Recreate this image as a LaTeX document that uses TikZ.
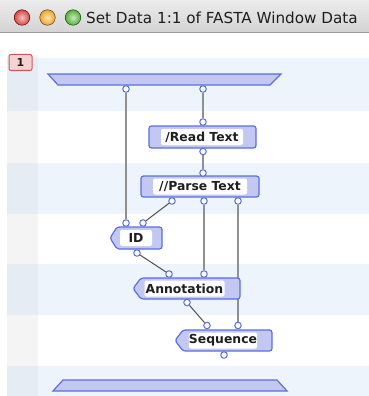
\documentclass[tikz,border=0pt]{standalone}
\usepackage{fontspec}
\setmainfont{DejaVu Sans}
\usetikzlibrary{calc}
\definecolor{stripe}{HTML}{EEF4FC}
\definecolor{colw}{HTML}{F4F4F4}
\definecolor{colb}{HTML}{E5ECF4}
\definecolor{nodeblue}{HTML}{5B6EE1}
\definecolor{nodefill}{HTML}{C3C8F2}
\definecolor{wiregray}{HTML}{909090}
\definecolor{wiredark}{HTML}{505050}
\definecolor{txt}{HTML}{1E1E1E}
\definecolor{badgefill}{HTML}{F5D2D2}
\definecolor{badgeline}{HTML}{C45A5A}
\definecolor{tbtop}{HTML}{ECECEC}
\definecolor{tbbot}{HTML}{D4D4D4}
\definecolor{tbline}{HTML}{9A9A9A}
\definecolor{redbtn}{HTML}{E8504A}
\definecolor{orangebtn}{HTML}{F5B030}
\definecolor{greenbtn}{HTML}{62C040}
\pgfdeclarelayer{bg}
\pgfdeclarelayer{wires}
\pgfsetlayers{bg,wires,main}
\tikzset{
  boxshape/.style={draw=nodeblue, fill=nodefill, line width=1.2pt, rounded corners=2.5pt},
  lbl/.style={fill=white, rounded corners=2pt, inner sep=0pt, text=txt,
    font=\bfseries\fontsize{12.4}{14}\selectfont, minimum height=16pt},
  port/.style={circle, draw=nodeblue, fill=white, line width=1pt, inner sep=0pt, minimum size=6.5pt},
  wire/.style={draw=wiregray, line width=1.6pt},
  diag/.style={draw=wiredark, line width=1pt},
  light/.style={circle, inner sep=0pt, minimum size=15.5pt, line width=0.5pt}
}
\begin{document}
\begin{tikzpicture}[x=1pt,y=-1pt]
\useasboundingbox (0,0) rectangle (369,396);
\begin{pgfonlayer}{bg}
\fill[white] (0,0) rectangle (369,396);
\shade[top color=tbtop, bottom color=tbbot] (0,0) rectangle (369,32);
\draw[tbline, line width=1pt] (0,32.5) -- (369,32.5);
\foreach \ya/\yb in {58/111, 163/214, 264/315, 366/396} {
  \fill[stripe] (7,\ya) rectangle (369,\yb);
}
\fill[colw] (7,55) rectangle (38,396);
\foreach \ya/\yb in {58/111, 163/214, 264/315, 366/396} {
  \fill[colb] (7,\ya) rectangle (38,\yb);
}
\end{pgfonlayer}
% window buttons and title
\node[light, inner color=redbtn!35!white, outer color=redbtn!90!black, draw=red!45!black] (closebtn) at (22,17.5) {};
\node[light, inner color=orangebtn!35!white, outer color=orangebtn!95!black, draw=orange!45!black] (minbtn) at (47.5,17.5) {};
\node[light, inner color=greenbtn!35!white, outer color=greenbtn!90!black, draw=green!35!black] (zoombtn) at (73,17.5) {};
\node[anchor=west, inner sep=0pt, text=txt, font=\fontsize{15.2}{18}\selectfont] (title) at (86,17.5) {Set Data 1:1 of FASTA Window Data};
% badge
\node[draw=badgeline, fill=badgefill, line width=1pt, rounded corners=2pt, minimum width=23pt, minimum height=16pt, inner sep=0pt, text=txt, font=\bfseries\fontsize{11}{12}\selectfont] (badge) at (20.5,62.5) {1};
% top and bottom bars
\draw[boxshape, rounded corners=0pt] (48,74) -- (281,74) -- (270,85) -- (58,85) -- cycle;
\draw[boxshape, rounded corners=0pt] (63,380) -- (277,380) -- (287,391) -- (53,391) -- cycle;
% Read Text
\draw[boxshape] (149,126) rectangle (256,148);
\node[lbl, minimum width=82pt] (readtext) at (202,137) {/Read Text};
% Parse Text
\draw[boxshape] (141,176) rectangle (259,197);
\node[lbl, minimum width=94pt] (parsetext) at (200,186.5) {//Parse Text};
% ID
\draw[boxshape] (110,238) -- (117,227) -- (162,227) -- (162,249) -- (117,249) -- cycle;
\node[lbl, minimum width=32pt] (id) at (136,238) {ID};
% Annotation
\draw[boxshape] (133,288.5) -- (141,278) -- (240,278) -- (240,299) -- (141,299) -- cycle;
\node[lbl, minimum width=80pt] (annotation) at (184.5,288.5) {Annotation};
% Sequence
\draw[boxshape] (175,340.5) -- (183,330) -- (272,330) -- (272,351) -- (183,351) -- cycle;
\node[lbl, minimum width=67pt] (sequence) at (223,340.5) {Sequence};
% ports
\node[port] (t1) at (126,89) {};
\node[port] (t2) at (203,89) {};
\node[port] (rtin) at (203,122) {};
\node[port] (rtout) at (203,151.5) {};
\node[port] (ptin) at (203,173) {};
\node[port] (pto1) at (172,201) {};
\node[port] (pto2) at (204,201) {};
\node[port] (pto3) at (238,201) {};
\node[port] (idin1) at (126,223) {};
\node[port] (idin2) at (143,223) {};
\node[port] (idout) at (137,253) {};
\node[port] (anin1) at (169,274) {};
\node[port] (anin2) at (204,274) {};
\node[port] (anout) at (187,302.5) {};
\node[port] (sqin1) at (207,325.5) {};
\node[port] (sqin2) at (238,325.5) {};
\node[port] (sqout) at (224,355) {};
% connectors
\begin{pgfonlayer}{wires}
\draw[wire] (t1) -- (idin1);
\draw[wire] (t2) -- (rtin);
\draw[wire] (rtout) -- (ptin);
\draw[wire] (pto2) -- (anin2);
\draw[wire] (pto3) -- (sqin2);
\draw[diag] (pto1) -- (idin2);
\draw[diag] (idout) -- (anin1);
\draw[diag] (anout) -- (sqin1);
\end{pgfonlayer}
\end{tikzpicture}
\end{document}
